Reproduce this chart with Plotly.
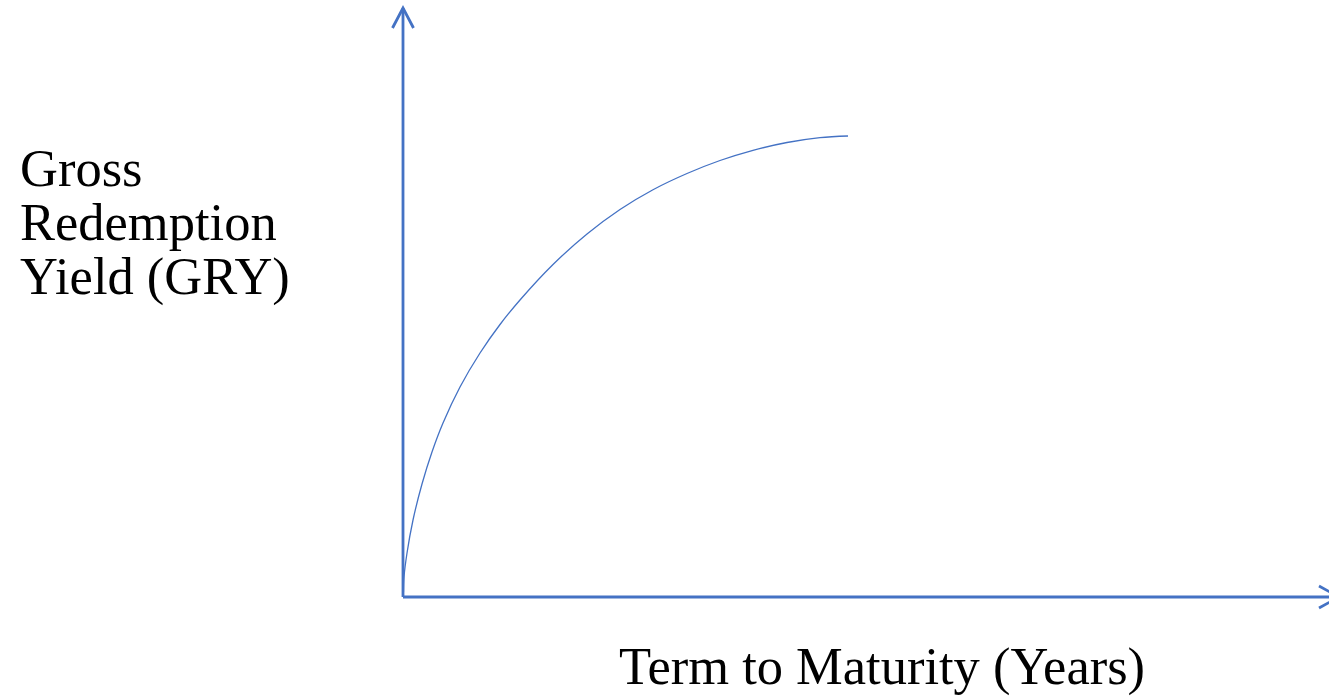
import plotly.graph_objects as go

# Data (term in years, yield in arbitrary % units)
term_years = [0.02, 0.045, 0.18, 0.45, 0.854, 1.303, 1.798, 2.562, 3.461, 4.36, 5.258, 6.742, 8.27,
              9.753, 11.236, 12.764, 14.247, 15.73, 17.258, 18.742, 20.0]
gry_values = [0.05, 0.20, 0.44, 0.77, 1.13, 1.45, 1.74, 2.10, 2.44, 2.725, 2.97, 3.325, 3.63,
              3.875, 4.073, 4.235, 4.365, 4.467, 4.545, 4.594, 4.61]

y_label_lines = ["Gross", "Redemption", "Yield (GRY)"]
x_label = "Term to Maturity (Years)"

W, H = 1329, 697
ORIGIN_PX = (403, 597)
PX_PER_YEAR = 22.25
PX_PER_UNIT = 100.0
BLUE = "#4472C4"

x_range = [-ORIGIN_PX[0] / PX_PER_YEAR, (W - ORIGIN_PX[0]) / PX_PER_YEAR]
y_range = [(ORIGIN_PX[1] - H) / PX_PER_UNIT, ORIGIN_PX[1] / PX_PER_UNIT]

fig = go.Figure()
fig.add_trace(go.Scatter(
    x=term_years, y=gry_values, mode="lines",
    line=dict(color=BLUE, width=1.3, shape="spline", smoothing=1.0),
    hoverinfo="skip", showlegend=False,
))

# axis lines with open chevron arrowheads
y_tip = (ORIGIN_PX[1] - 8) / PX_PER_UNIT
x_tip = (1339 - ORIGIN_PX[0]) / PX_PER_YEAR
hw_x = 10.5 / PX_PER_YEAR
len_y = 20 / PX_PER_UNIT
len_x = 20 / PX_PER_YEAR
hw_y = 11 / PX_PER_UNIT

shapes = [
    dict(type="line", x0=0, y0=0, x1=0, y1=y_tip, xref="x", yref="y",
         line=dict(color=BLUE, width=2.8)),
    dict(type="line", x0=0, y0=0, x1=x_tip, y1=0, xref="x", yref="y",
         line=dict(color=BLUE, width=2.8)),
    dict(type="path", xref="x", yref="y",
         path=f"M{-hw_x},{y_tip - len_y} L0,{y_tip} L{hw_x},{y_tip - len_y}",
         line=dict(color=BLUE, width=2.8)),
    dict(type="path", xref="x", yref="y",
         path=f"M{x_tip - len_x},{hw_y} L{x_tip},0 L{x_tip - len_x},{-hw_y}",
         line=dict(color=BLUE, width=2.8)),
]

FS = 52.5
FONT = dict(family="Liberation Serif, Times New Roman, serif", size=FS, color="#000000")
annotations = []
baselines = [186, 240, 294]
for line_txt, base in zip(y_label_lines, baselines):
    cy = base - 0.3375 * FS
    annotations.append(dict(text=line_txt, x=18 / W, y=1 - cy / H, xref="paper", yref="paper",
                            xanchor="left", yanchor="middle", showarrow=False, font=FONT))
cy = 684 - 0.3375 * FS
annotations.append(dict(text=x_label, x=617 / W, y=1 - cy / H, xref="paper", yref="paper",
                        xanchor="left", yanchor="middle", showarrow=False, font=FONT))

fig.update_layout(
    width=W, height=H,
    margin=dict(l=0, r=0, t=0, b=0),
    paper_bgcolor="white", plot_bgcolor="white",
    xaxis=dict(range=x_range, visible=False, fixedrange=True),
    yaxis=dict(range=y_range, visible=False, fixedrange=True),
    shapes=shapes, annotations=annotations,
)
fig.write_html(
    "out.html",
    config={"displayModeBar": False},
    post_script="document.body.style.margin='0';document.body.style.overflow='hidden';",
)
